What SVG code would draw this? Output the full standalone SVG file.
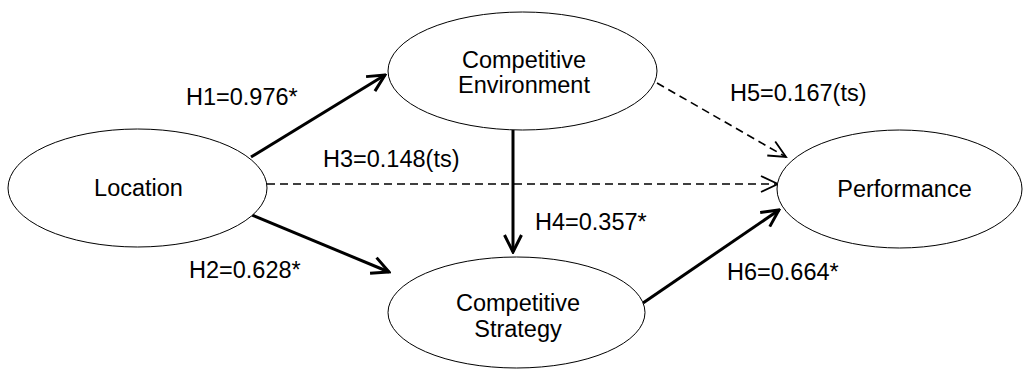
<svg xmlns="http://www.w3.org/2000/svg" width="1030" height="370" viewBox="0 0 1030 370">
  <style>
    .node { fill: #ffffff; stroke: #000000; stroke-width: 1; }
    .label { font-family: "Liberation Sans", Arial, sans-serif; font-size: 23.5px; fill: #000000; text-anchor: middle; }
    .coef { font-family: "Liberation Sans", Arial, sans-serif; font-size: 23.5px; fill: #000000; }
    .sig { fill: none; stroke: #000000; stroke-width: 3; marker-end: url(#head); }
    .ns { fill: none; stroke: #000000; stroke-width: 1.6; stroke-dasharray: 8 5; marker-end: url(#headThin); }
  </style>
  <defs>
    <marker id="head" markerUnits="userSpaceOnUse" viewBox="-20 -10 22 20" refX="0" refY="0" markerWidth="22" markerHeight="20" orient="auto">
      <path d="M-17,-8.5 L0,0 L-17,8.5" fill="none" stroke="#000000" stroke-width="3" stroke-linejoin="miter"/>
    </marker>
    <marker id="headThin" markerUnits="userSpaceOnUse" viewBox="-20 -10 22 20" refX="0" refY="0" markerWidth="22" markerHeight="20" orient="auto">
      <path d="M-17,-8 L0,0 L-17,8" fill="none" stroke="#000000" stroke-width="1.8"/>
    </marker>
  </defs>

  <g id="connectors">
    <line id="h1" class="sig" x1="251" y1="157" x2="385" y2="75"/>
    <line id="h2" class="sig" x1="252" y1="215" x2="389" y2="272"/>
    <line id="h3" class="ns" x1="267" y1="184" x2="778" y2="184"/>
    <line id="h4" class="sig" x1="513" y1="130" x2="513" y2="252"/>
    <line id="h5" class="ns" x1="657" y1="83" x2="786" y2="157"/>
    <line id="h6" class="sig" x1="643" y1="303" x2="779" y2="210"/>
  </g>

  <g id="location">
    <ellipse class="node" cx="137.5" cy="188" rx="129.5" ry="59"/>
    <text class="label" x="138.5" y="196">Location</text>
  </g>

  <g id="competitive-environment">
    <ellipse class="node" cx="522.5" cy="71" rx="134.5" ry="59"/>
    <text class="label" x="524" y="68">Competitive</text>
    <text class="label" x="524" y="93">Environment</text>
  </g>

  <g id="competitive-strategy">
    <ellipse class="node" cx="516.5" cy="312.5" rx="128.5" ry="55.5"/>
    <text class="label" x="518" y="311">Competitive</text>
    <text class="label" x="518" y="337">Strategy</text>
  </g>

  <g id="performance">
    <ellipse class="node" cx="899.5" cy="189" rx="122.5" ry="59"/>
    <text class="label" x="904.5" y="197">Performance</text>
  </g>

  <g id="coefficients">
    <text class="coef" x="186" y="105">H1=0.976*</text>
    <text class="coef" x="189" y="278">H2=0.628*</text>
    <text class="coef" x="323" y="167">H3=0.148(ts)</text>
    <text class="coef" x="535" y="230">H4=0.357*</text>
    <text class="coef" x="730" y="101">H5=0.167(ts)</text>
    <text class="coef" x="727" y="280">H6=0.664*</text>
  </g>
</svg>
